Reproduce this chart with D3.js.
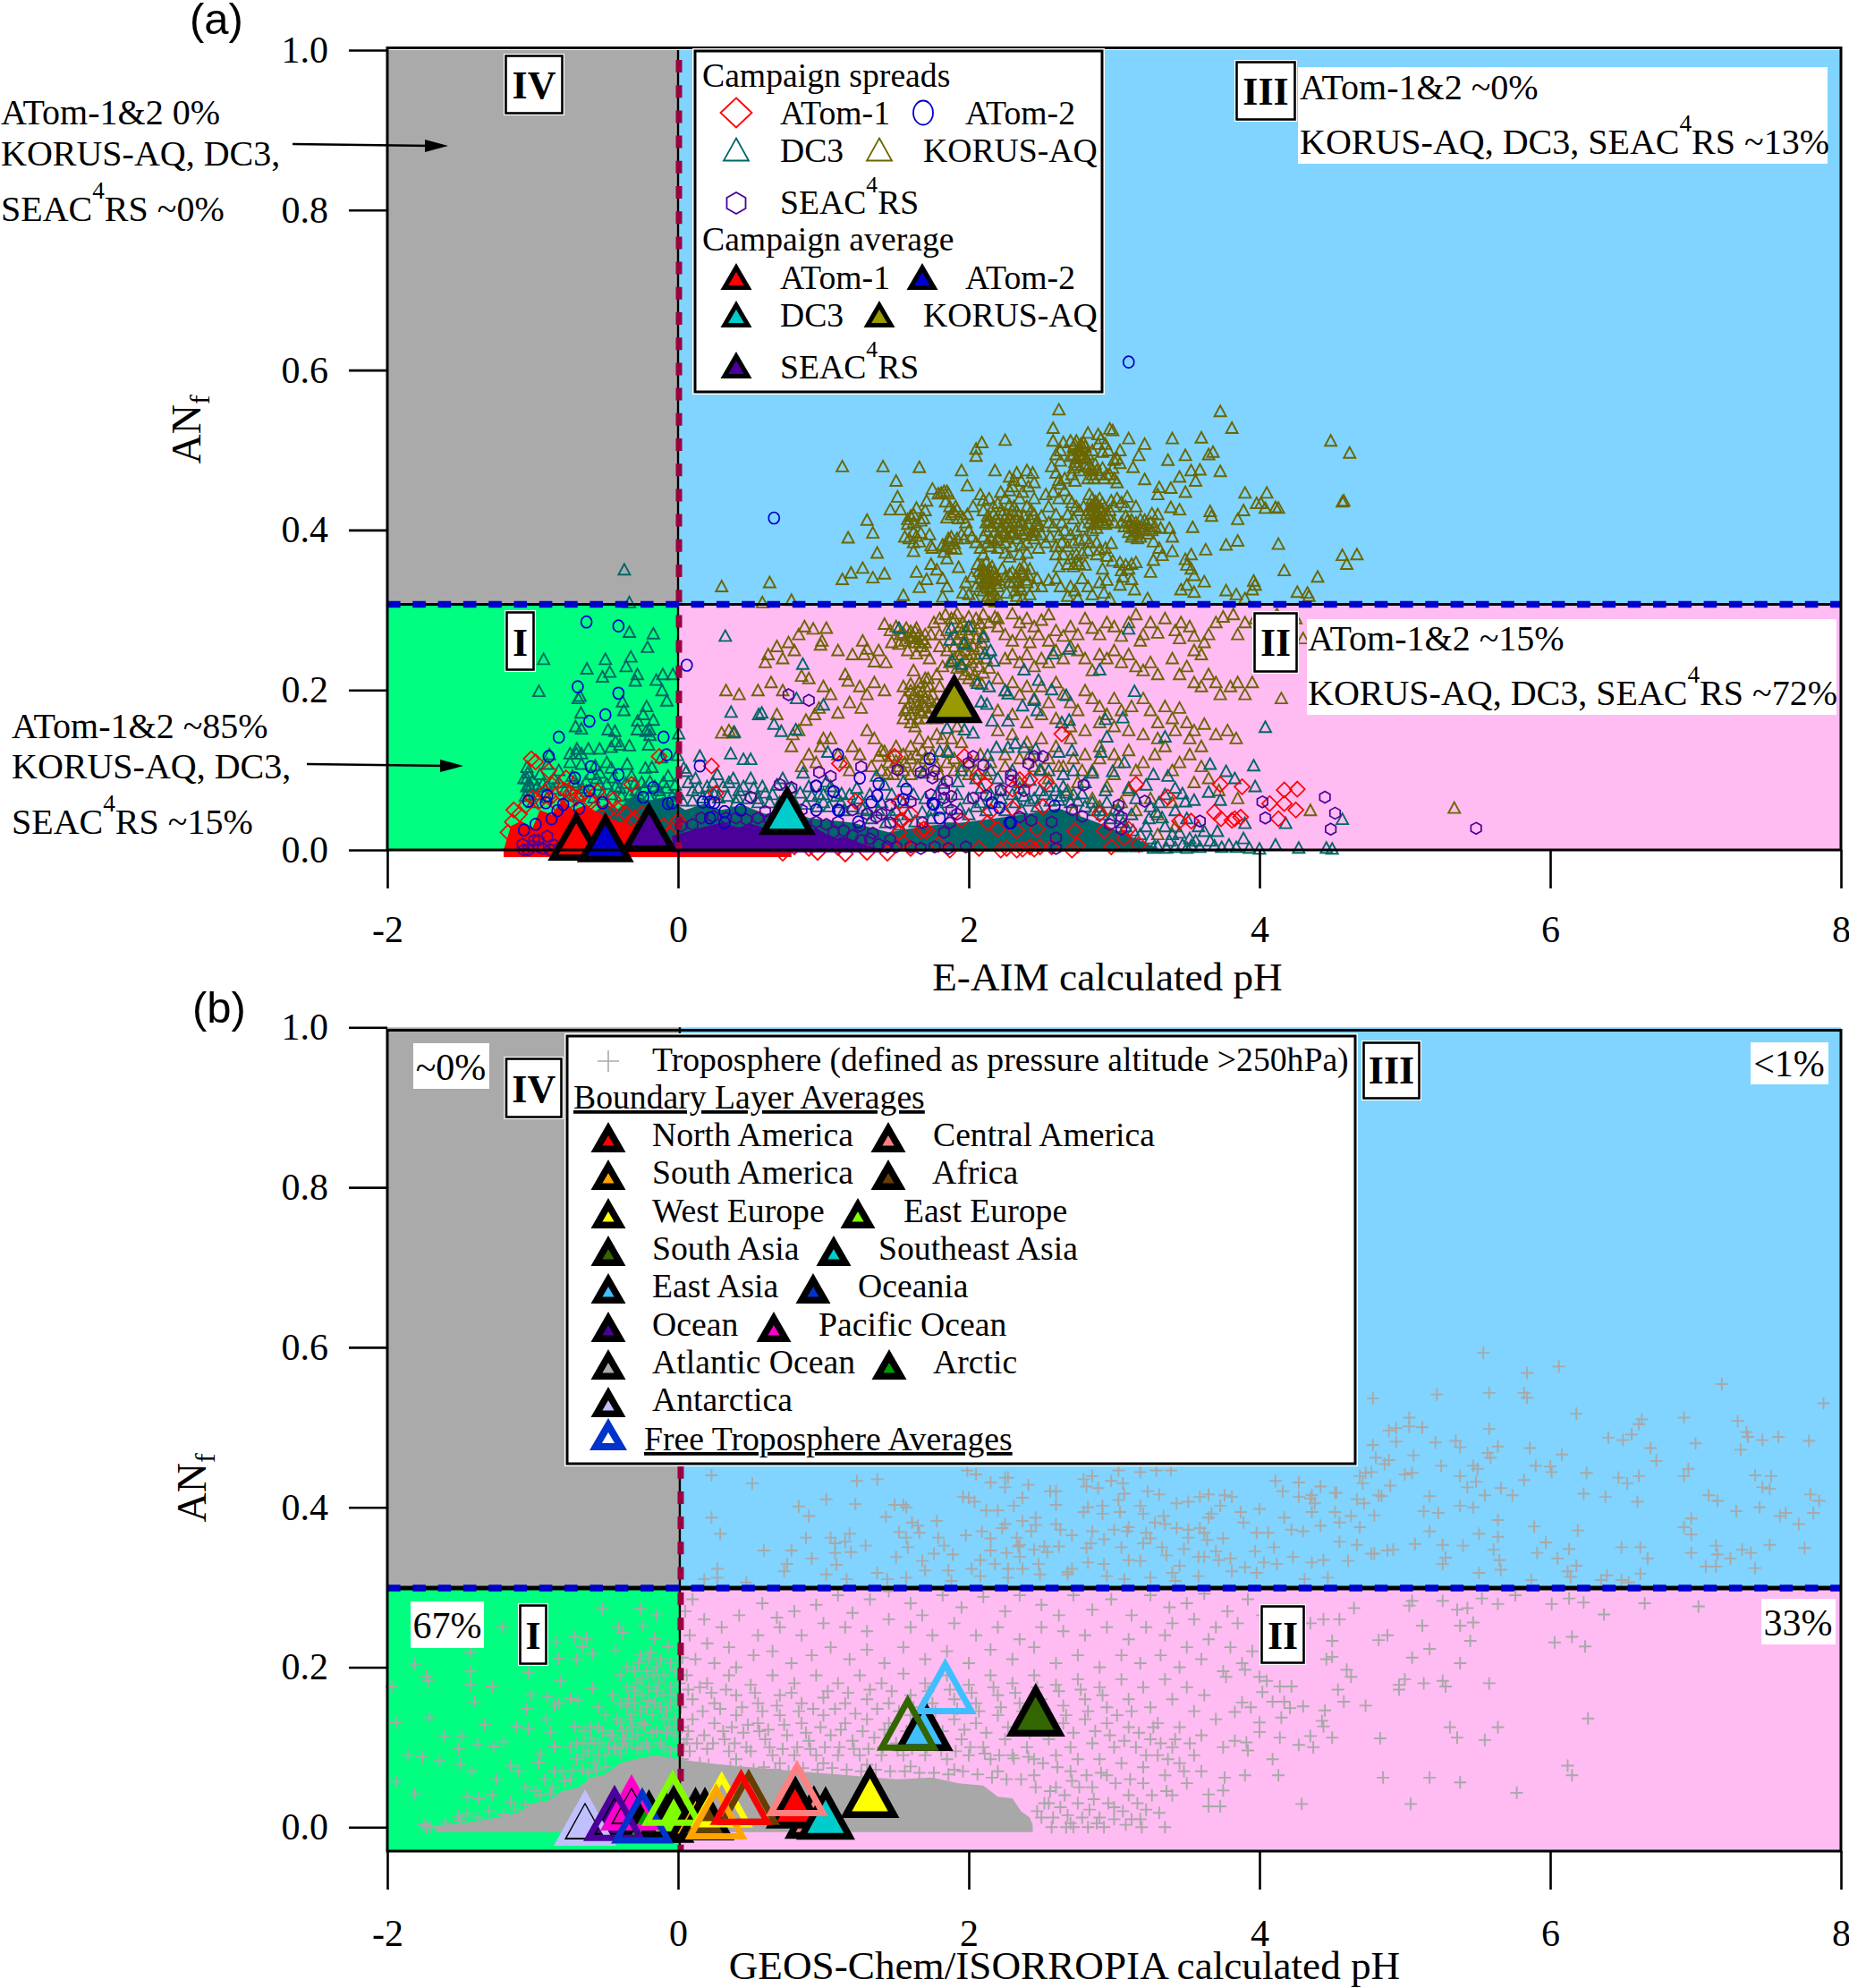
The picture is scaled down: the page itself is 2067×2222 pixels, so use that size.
<!DOCTYPE html>
<html><head><meta charset="utf-8">
<script src="https://cdn.jsdelivr.net/npm/d3@7"></script>
<style>
html,body{margin:0;padding:0;background:#fff}
svg{display:block}
text{font-family:"Liberation Serif","Times New Roman",serif;fill:#000}
</style></head><body>
<svg id="c" width="2067" height="2222"></svg>
<script>
const xTicks=[-2,0,2,4,6,8], xTickLabels=['-2','0','2','4','6','8'];
const yTicks=[0,0.2,0.4,0.6,0.8,1.0];
const thresholdA=0.307, thresholdB=0.299, zeroB=0.012;
const colors={gray:'#aaaaaa',sky:'#80d4ff',green:'#00ff80',pink:'#ffbcf2',crimson:'#99003f',dashBlue:'#0000cc',
 red:'#ff0000',blue:'#0000cc',teal:'#006666',olive:'#6b6600',purple:'#4b0099',cyan:'#00cccc',oliveFill:'#999900',plus:'#a8a8a8'};

/* ---- panel (a): dense masses where single marks merge (x, top of mass) ---- */
const redMass=[[-1.2,0],[-1.15,.03],[-1.08,.036],[-1.0,.028],[-.95,.05],[-.87,.044],[-.8,.062],[-.72,.05],[-.64,.056],[-.5,.042],[-.33,.03],[-.15,.018],[-.02,.006],[.3,.002],[.78,0]];
const tealMass=[[-.62,0],[-.6,.044],[-.5,.058],[-.42,.05],[-.3,.07],[-.2,.06],[-.1,.066],[.05,.05],[.18,.058],[.3,.05],[.45,.056],[.6,.045],[.78,.05],[.9,.04],[1.2,.034],[1.45,.022],[1.7,.03],[1.95,.034],[2.2,.04],[2.4,.045],[2.62,.052],[2.8,.04],[2.95,.03],[3.1,.018],[3.2,.01],[3.3,.002]];
const purpleMass=[[-.04,.018],[.05,.022],[.2,.03],[.3,.034],[.42,.028],[.5,.033],[.62,.026],[.75,.03],[.85,.022],[.95,.027],[1.08,.014],[1.15,.016],[1.3,.006],[1.42,0]];

const korusPts=[[.3,.33],[.58,.31],[.63,.335],[.78,.313],[1.13,.48],[1.41,.48],[1.66,.479],[1.95,.475],[2.18,.475],[2.62,.551],[3.73,.549],[3.81,.528],[2.58,.528],[2.97,.527],[2.99,.525],[2.82,.522],[2.89,.52],[2.91,.515],[3.1,.515],[3.6,.516],[3.4,.515],[4.49,.512],[3.21,.508],[2.09,.51],[2.25,.513],[2.05,.502],[2.05,.493],[4.62,.497],[3.49,.494],[3.68,.498],[3.65,.495],[3.17,.494],[3.37,.488],[3.13,.479],[3.73,.474],[3.53,.475],[3.59,.476],[3.45,.467],[3.56,.462],[3.21,.464],[1.5,.462],[1.99,.456],[1.75,.452],[1.51,.442],[3.31,.454],[3.39,.453],[3.3,.445],[3.49,.448],[3.9,.447],[4.05,.447],[4.57,.436],[4.58,.437],[3.98,.434],[4.01,.434],[4.04,.428],[4.11,.429],[4.13,.428],[3.89,.425],[3.66,.424],[3.67,.418],[3.85,.414],[3.39,.429],[3.45,.426],[3.54,.404],[3.85,.387],[3.77,.382],[4.13,.383],[3.63,.376],[4.57,.369],[4.67,.37],[4.6,.358],[4.17,.35],[4.4,.342],[3.96,.337],[3.97,.332],[3.95,.326],[3.77,.325],[3.84,.32],[4.26,.323],[4.34,.318],[4.33,.322],[3.9,.315],[3.62,.336],[3.55,.344],[3.5,.332],[3.46,.326],[3.55,.323],[3.4,.374],[3.53,.37],[3.49,.364],[3.53,.352],[3.5,.357],[3.33,.369],[3.27,.363],[3.25,.348],[3.14,.326],[3.12,.339],[3.23,.315],[3.31,.378],[3.4,.392],[3.38,.403],[3.32,.403],[3.26,.421],[3.3,.42],[3.27,.386],[1.3,.413],[1.34,.397],[1.17,.391],[1.37,.372],[1.27,.353],[1.19,.347],[1.13,.339],[1.34,.341],[1.42,.346],[1.46,.426],[1.53,.426],[1.71,.437],[1.55,.319],[1.62,.374],[1.64,.348],[1.74,.358],[1.78,.351],[1.71,.339],[1.66,.329],[1.85,.365],[1.93,.354],[1.82,.34],[1.85,.33],[1.82,.317],
[1.56,.392],[1.59,.39],[1.62,.385],[1.62,.398],[1.64,.393],[1.66,.386],[1.67,.397],[1.73,.395],[1.74,.381],[1.75,.378],[1.58,.414],[1.6,.418],[1.62,.41],[1.62,.42],[1.64,.428],[1.69,.415],[1.7,.425],[1.67,.412],[1.58,.408],[1.79,.446],[1.81,.447],[1.83,.449],[1.85,.449],[1.86,.446],[1.84,.436],[1.87,.43],[1.85,.416],[1.88,.42],[1.9,.423],[1.92,.426],[1.93,.415],[1.96,.416],[1.99,.42],[1.91,.43],[1.86,.39],[1.87,.387],[1.88,.392],[1.9,.384],[1.92,.39],[1.88,.378],[1.91,.377],[1.82,.382],[1.83,.373],[1.84,.38],[1.95,.395],[1.97,.39],[2.0,.4],[2.02,.392],[1.98,.41],[2.03,.43],
[2.08,.445],[2.1,.438],[2.1,.425],[2.14,.44],[2.17,.43],[2.13,.418],[2.17,.42],[2.2,.434],[2.22,.425],[2.25,.44],[2.28,.432],[2.3,.425],[2.25,.415],[2.2,.41],[2.15,.405],[2.12,.4],[2.18,.398],[2.22,.4],[2.26,.405],[2.3,.41],[2.34,.42],[2.36,.41],[2.4,.43],[2.42,.415],[2.45,.42],[2.47,.412],[2.35,.4],[2.39,.395],[2.44,.4],[2.48,.405],[2.5,.418],[2.29,.395],[2.33,.39],[2.3,.38],[2.36,.382],[2.4,.385],[2.45,.39],[2.5,.395],[2.25,.385],[2.2,.388],[2.15,.39],[2.1,.392],[2.05,.385],[2.25,.372],[2.28,.367],[2.35,.37],[2.4,.372],[2.48,.378],[2.53,.385],[2.2,.378],[2.15,.38],[2.08,.378],[2.1,.37],[2.3,.455],[2.31,.463],[2.28,.467],[2.33,.472],[2.36,.462],[2.4,.475],[2.44,.472],[2.37,.448],[2.41,.455],[2.45,.46],[2.28,.45],[2.22,.448],[2.45,.44],[2.35,.44],
[2.57,.48],[2.6,.472],[2.62,.463],[2.63,.458],[2.66,.465],[2.6,.495],[2.63,.487],[2.63,.5],[2.58,.512],[2.65,.51],[2.7,.512],[2.72,.504],[2.7,.493],[2.73,.485],[2.75,.5],[2.77,.508],[2.79,.51],[2.8,.505],[2.82,.495],[2.85,.5],[2.77,.49],[2.72,.478],[2.76,.475],[2.8,.48],[2.84,.478],[2.85,.47],[2.88,.475],[2.92,.478],[2.95,.47],[2.97,.47],[2.99,.478],[3.0,.488],[2.96,.5],[2.94,.508],[3.02,.49],[3.04,.5],[3.04,.484],[3.0,.465],[3.02,.46],[2.82,.465],[2.86,.465],[2.89,.508],[2.92,.498],
[2.53,.445],[2.55,.43],[2.58,.448],[2.62,.44],[2.66,.45],[2.69,.44],[2.71,.435],[2.74,.43],[2.76,.425],[2.72,.415],[2.6,.42],[2.64,.41],[2.68,.42],[2.58,.405],[2.55,.41],[2.62,.395],[2.66,.4],[2.7,.395],[2.74,.4],[2.78,.405],[2.56,.392],[2.6,.38],[2.64,.385],[2.68,.38],[2.72,.385],[2.76,.388],[2.8,.39],[2.83,.385],[2.6,.37],[2.65,.37],[2.7,.365],[2.74,.37],[2.78,.372],[2.82,.375],[2.88,.37],[2.72,.355],[2.76,.358],[2.8,.357],[2.74,.362],[2.68,.358],[2.62,.355],[2.95,.368],[2.99,.362],[3.04,.36],[3.05,.35],[3.06,.342],[3.04,.332],[3.08,.357],[3.1,.352],[3.12,.358],[3.15,.36],[2.92,.352],[2.88,.385],[2.9,.376],[2.94,.378],[2.98,.384],
[2.83,.445],[2.85,.44],[2.87,.436],[2.89,.43],[2.9,.44],[2.92,.425],[2.86,.425],[2.84,.43],[2.88,.418],[2.93,.42],[2.95,.413],[2.85,.415],[2.81,.42],[2.79,.43],[2.97,.425],[2.98,.437],[3.0,.43],[3.02,.44],[3.05,.435],[3.08,.43],[3.09,.442],[3.15,.43],[3.0,.41],[3.05,.41],[3.08,.418],[3.1,.405],[3.12,.413],[3.15,.41],[3.17,.405],[3.18,.414],[3.2,.4],[3.22,.408],[3.24,.402],[3.26,.4],[3.28,.405],[3.1,.398],[3.13,.395],[3.15,.4],[3.18,.392],
[2.06,.358],[2.1,.35],[2.12,.36],[2.14,.345],[2.16,.355],[2.18,.34],[2.15,.33],[2.2,.33],[2.12,.335],[2.1,.325],[2.08,.34],[2.05,.33],[2.02,.342],[1.98,.335],[2.0,.32],[1.96,.322],[2.04,.315],[2.13,.318],[2.17,.32],[2.2,.315],[2.23,.352],[2.25,.342],[2.28,.335],[2.3,.348],[2.33,.342],[2.35,.33],[2.38,.345],[2.4,.335],[2.42,.32],[2.45,.33],[2.47,.34],[2.32,.325],[2.37,.315],[2.26,.322],[2.5,.33],[2.55,.338],[2.6,.34],[2.63,.33],[2.7,.33],[2.73,.325],[2.78,.34],[2.82,.33],[2.68,.318],[2.75,.315],[2.85,.32],[2.9,.335],[2.95,.338],[2.93,.322],[2.97,.315],
[.87,.28],[.93,.277],[.99,.262],[.98,.257],[1.02,.278],[1.1,.25],[1.2,.245],[1.27,.262],[1.28,.245],[1.3,.252],[1.35,.236],[1.38,.25],[1.43,.235],[1.15,.22],[1.17,.212],[1.25,.205],[1.3,.195],[1.35,.21],[1.42,.2],[1.05,.195],[1.0,.205],[.9,.215],[.85,.218],[.97,.178],[1.1,.172],[1.18,.185],[1.26,.178],[.88,.163],[.94,.17],[1.0,.14],[.79,.145],[.83,.15],[.78,.13],[.9,.12],[.98,.13],[1.05,.14],[1.1,.12],[1.15,.11],[1.2,.13],[1.25,.12],[.85,.105],[.95,.11],[1.3,.15],[1.35,.14],[1.4,.125],[1.33,.105],[1.18,.1],[1.45,.11],[.55,.2],[.42,.195],[.3,.147],[.38,.147],[.33,.2],[.35,.15],[.68,.17],[.64,.21],[.72,.2],[.6,.235],[.72,.24],[.8,.25],[.76,.26],[.68,.255],[.62,.245],[.83,.27],
[1.42,.283],[1.46,.275],[1.5,.28],[1.53,.27],[1.57,.278],[1.6,.265],[1.63,.274],[1.66,.26],[1.7,.27],[1.47,.26],[1.52,.258],[1.58,.25],[1.64,.246],[1.7,.25],[1.73,.24],[1.76,.285],[1.8,.29],[1.84,.295],[1.88,.29],[1.92,.296],[1.96,.285],[2.0,.292],[2.05,.29],[2.1,.295],[2.14,.285],[2.18,.292],[2.2,.28],[1.8,.27],[1.85,.275],[1.9,.27],[1.95,.272],[2.0,.27],[2.05,.265],[2.1,.27],[1.8,.255],[1.85,.25],[1.9,.255],[1.93,.245],[1.98,.25],[2.02,.245],[2.06,.24],[2.12,.24],[1.82,.23],[1.87,.235],[1.95,.23],[2.0,.225],[2.04,.22],[1.55,.205],[1.6,.208],[1.65,.2],[1.7,.205],[1.75,.195],[1.8,.205],[1.56,.19],[1.6,.185],[1.65,.182],[1.7,.19],[1.75,.178],[1.6,.17],[1.65,.165],[1.7,.165],[1.55,.165],[1.72,.215],[1.78,.22],[1.62,.225],[1.92,.155],[1.88,.14],[1.95,.135],[1.82,.14],[1.78,.145],[1.72,.135],[1.66,.14],[1.6,.13],[1.55,.12],[1.5,.13],[1.7,.115],[1.75,.12],[1.85,.125],[1.9,.115],[1.95,.105],[1.78,.105],[1.65,.105],[1.55,.1],[1.48,.095],
[2.2,.29],[2.3,.296],[2.35,.285],[2.4,.29],[2.45,.28],[2.5,.288],[2.55,.295],[2.25,.27],[2.3,.262],[2.36,.27],[2.42,.26],[2.48,.27],[2.55,.262],[2.6,.275],[2.65,.268],[2.7,.28],[2.75,.27],[2.8,.29],[2.85,.278],[2.9,.27],[2.95,.285],[3.0,.28],[3.05,.268],[3.1,.285],[3.15,.295],[3.18,.262],[3.2,.27],[3.25,.285],[3.3,.272],[3.35,.29],[3.42,.275],[3.46,.285],[3.52,.28],[3.45,.265],[3.55,.268],[3.62,.26],[3.55,.25],[3.6,.245],[3.65,.27],[3.7,.285],[3.75,.292],[3.82,.295],[3.85,.27],[3.9,.285],[3.97,.29],[4.0,.255],[4.05,.26],[4.02,.236],[4.15,.275],[4.25,.29],[4.3,.265],[4.12,.295],[2.25,.24],[2.3,.245],[2.35,.235],[2.4,.245],[2.45,.23],[2.5,.24],[2.55,.235],[2.6,.25],[2.65,.24],[2.7,.255],[2.75,.25],[2.8,.24],[2.85,.225],[2.9,.245],[2.95,.24],[3.0,.25],[3.05,.235],[3.1,.245],[3.15,.23],[3.2,.225],[3.25,.235],[3.3,.22],[3.4,.24],[3.45,.22],[3.5,.23],[3.55,.21],[3.6,.205],[3.65,.22],[3.7,.21],[3.73,.195],[3.8,.205],[3.85,.21],[3.9,.195],[3.95,.21],[4.15,.19],
[2.2,.215],[2.25,.2],[2.3,.21],[2.35,.195],[2.4,.205],[2.45,.19],[2.5,.205],[2.55,.185],[2.6,.21],[2.65,.195],[2.7,.185],[2.75,.175],[2.8,.2],[2.85,.19],[2.9,.18],[2.95,.17],[3.0,.19],[3.05,.175],[3.12,.18],[3.2,.19],[3.25,.175],[3.3,.16],[3.35,.18],[3.4,.165],[3.45,.178],[3.5,.16],[3.55,.15],[3.62,.158],[3.7,.145],[3.78,.15],[3.84,.14],[3.6,.13],[3.52,.14],[3.42,.15],[3.3,.14],[3.2,.145],[3.1,.15],[3.0,.155],[2.9,.16],[2.8,.15],[2.7,.155],[2.6,.165],[2.5,.17],[2.4,.16],[2.3,.17],[2.2,.175],[2.2,.15],[2.3,.145],[2.4,.135],[2.5,.14],[2.6,.13],[2.7,.14],[2.8,.12],[2.9,.13],[3.0,.12],[3.1,.125],[3.2,.11],[3.28,.12],[3.35,.13],[3.45,.11],[3.52,.12],[3.6,.105],[3.65,.09],[3.55,.085],[3.4,.1],[3.15,.1],[3.0,.095],[2.85,.1],[2.65,.105],[2.45,.105],[2.25,.12],[2.15,.11],[2.05,.1],[2.35,.085],[2.55,.09],[2.75,.085],[2.95,.08],[3.1,.075],[3.25,.065],[3.4,.06],[3.05,.06],[2.85,.065],[2.68,.075],[2.72,.05],[2.9,.055],[3.0,.05],[3.15,.05],[3.3,.045],[3.42,.03],[3.85,.065],[3.72,.075],[5.34,.053],[4.35,.05],[3.3,.02]];

/* tight KORUS-AQ clumps read from the crowded parts of the cloud */
const korusClumps=[[2.11,.336],[2.13,.342],[2.15,.337],[2.17,.348],[2.14,.352],[2.11,.346],[2.09,.333],[2.18,.334],[2.16,.326],[2.13,.328],[2.19,.344],[2.07,.349],[2.09,.356],[2.21,.338],[2.12,.313],[2.15,.316],[2.18,.311],[2.35,.352],[2.37,.348],[2.34,.335],[2.39,.338],[2.41,.344],[2.36,.326],[2.33,.318],[2.31,.336],[2.38,.356],[2.42,.352],[2.28,.345],
[2.26,.42],[2.28,.416],[2.31,.43],[2.33,.424],[2.29,.404],[2.31,.398],[2.27,.392],[2.34,.406],[2.37,.396],[2.33,.412],[2.38,.418],[2.41,.408],[2.39,.402],[2.43,.394],[2.46,.398],[2.25,.396],[2.27,.41],[2.23,.42],[2.19,.415],[2.17,.41],[2.14,.412],[2.12,.41],[2.23,.405],[2.21,.392],[2.18,.385],[2.13,.385],[2.43,.425],[2.46,.408],
[2.86,.43],[2.88,.435],[2.9,.428],[2.92,.434],[2.87,.42],[2.89,.412],[2.91,.416],[2.94,.408],[2.86,.408],[2.83,.41],[2.85,.4],[2.88,.403],[2.92,.41],[2.96,.418],[2.82,.425],[2.84,.422],
[3.07,.405],[3.09,.412],[3.11,.41],[3.13,.403],[3.16,.398],[3.19,.405],[3.21,.413],[3.23,.396],[3.12,.392],[3.16,.39],[3.25,.41],
[2.73,.508],[2.74,.512],[2.76,.5],[2.78,.505],[2.74,.49],[2.77,.495],[2.79,.492],[2.81,.49],[2.75,.482],[2.72,.495],[2.71,.47],[2.73,.462],[2.85,.476],[2.87,.483],[2.83,.483],[2.9,.47],[2.93,.465],
[1.62,.267],[1.64,.278],[1.66,.27],[1.68,.264],[1.6,.274],[1.63,.26],[1.67,.255],[1.7,.26],[1.58,.268],[1.56,.262],[1.55,.272],[1.74,.27],
[1.6,.2],[1.62,.195],[1.65,.192],[1.68,.198],[1.62,.178],[1.66,.175],[1.7,.18],[1.72,.172],[1.6,.16],[1.63,.155],[1.67,.172],[1.74,.187],[1.78,.165],[1.58,.178],[1.56,.175],[1.66,.21],[1.7,.215],[1.73,.205],[1.68,.185],[1.78,.185],[1.82,.17],
[1.9,.29],[1.94,.28],[1.98,.276],[2.02,.28],[2.06,.277],[2.08,.284],[1.92,.264],[1.96,.26],[1.99,.257],[2.03,.255],[2.07,.252],[2.09,.26],[1.95,.245],[1.98,.238],[2.02,.235],[2.07,.23],[2.1,.222],[2.14,.228],[1.9,.24],[1.92,.228],[2.05,.212],[2.09,.208],[2.0,.215],[1.97,.22],
[1.38,.118],[1.42,.124],[1.46,.118],[1.5,.112],[1.52,.105],[1.56,.11],[1.6,.115],[1.64,.12],[1.68,.125],[1.4,.1],[1.44,.096],[1.6,.095],[1.7,.1],[1.8,.095],[1.9,.1],[2.0,.11],[2.08,.12],[2.0,.095],[1.85,.11],[2.12,.095],[2.25,.105],[2.35,.115],[2.42,.12],[2.55,.115],[2.72,.115],[2.62,.105],[2.78,.1],[2.9,.115],[3.03,.11],[2.5,.1]];

const dc3Pts=[[-.37,.351],[-.335,.31],[-.335,.273],[-.17,.271],[-.21,.254],[-.925,.239],[-.5,.239],[-.325,.242],[-.627,.227],[-.52,.217],[-.47,.223],[-.357,.23],[-.28,.22],[-.295,.212],[-.15,.213],[-.105,.22],[-.036,.22],[-.11,.2],[-.957,.199],[-.674,.193],[-.687,.19],[-.077,.187],[-.382,.186],[-.373,.175],[-.216,.18],[-.668,.172],[-.24,.17],[-.278,.162],[-.17,.163],[-.665,.152],[-.705,.155],[-.482,.151],[-.435,.149],[-.28,.151],[-.22,.149],[-.195,.151],[-.193,.144],[.004,.146],[-.43,.136],[-.4,.132],[-.335,.131],[-.203,.132],[-.617,.127],[-.54,.127],[-.46,.129],[-.696,.127],[-.743,.121],[-.7,.121],[-.665,.121],[-.885,.12],[-.005,.119],[-1.04,.104],[-1.035,.097],[-1.04,.09],[-1.025,.082],[-.9,.108],[-.82,.1],[-.743,.11],[-.665,.108],[-.57,.106],[-.49,.11],[-.46,.103],[-.35,.108],[-.225,.103],[-.115,.116],[-.18,.104],[-.853,.09],[-.727,.093],[-.633,.086],[-.54,.097],[-.445,.091],[-.32,.093],[-.193,.086],[-.068,.093],[-1.03,.075],[-.9,.08],[-.78,.075],[-.66,.078],[-.54,.082],[-.4,.078],[-.29,.075],[-.13,.075],[-.02,.082],[.04,.103],[.057,.099],[-1.05,.068],[-1.0,.06],[-.72,.085],[-.95,.095],[-.97,.08],[-.6,.095],[-.25,.085],[-.1,.085],
[.325,.268],[.858,.233],[.815,.19],[1.0,.182],[.365,.173],[.555,.17],[.576,.172],[.387,.148],[.66,.158],[.71,.149],[.81,.151],[.15,.118],[.362,.121],[.45,.114],[.5,.114],[1.03,.123],[1.52,.278],[1.88,.278],[2.0,.28],[2.1,.267],[1.97,.259],[2.15,.25],[1.87,.263],[2.11,.246],[1.885,.237],[1.95,.233],[2.17,.237],[2.06,.209],[2.14,.205],[2.25,.2],[2.27,.196],[2.125,.183],[2.085,.186],[3.1,.277],[2.69,.252],[2.58,.246],[2.38,.226],[2.9,.226],[2.48,.213],[2.57,.201],[2.67,.194],[3.14,.199],[2.45,.188],[2.37,.181],[2.47,.175],[2.94,.164],[3.06,.166],[2.27,.162],[2.16,.162],[2.64,.16],[2.69,.163],[1.85,.153],[1.97,.151],[2.03,.147],[2.95,.142],[3.35,.142],[4.04,.154],[2.32,.134],[2.19,.129],[2.27,.129],[2.38,.129],[2.46,.127],[1.8,.124],[1.86,.123],[2.13,.119],[2.62,.123],[2.71,.125],[2.91,.123],[3.07,.11],[3.66,.108],[3.77,.099],[3.96,.106],[3.97,.08],[3.83,.09],[3.65,.073],[3.49,.061],[3.55,.063],[3.73,.063],[3.42,.078],[3.27,.095],[3.22,.082],[2.99,.099],[2.85,.097],[2.65,.095],[2.49,.101],[3.37,.093],[3.47,.071],[3.31,.06],[3.29,.048],[3.33,.041],[3.71,.024],[3.62,.024],[3.9,.034],[4.18,.034],[4.57,.039],[3.89,.015],[4.11,.007],[4.27,.003],[4.46,.003],[4.5,.002],[4.0,.002],[3.79,.007],[3.69,.006],[3.59,.004],[3.53,.006],[3.47,.007],[1.42,.082],[1.365,.093],[1.23,.078],[1.125,.071],[1.02,.086],[.86,.097],[1.55,.086],[1.685,.097],[1.82,.084],[1.925,.086],[2.085,.078],[2.22,.075],[2.35,.078],[2.49,.075],[2.62,.063],[2.78,.071],[2.94,.075],[3.1,.078],
[.12,.09],[.2,.08],[.27,.095],[.35,.085],[.42,.075],[.5,.09],[.58,.08],[.65,.07],[.72,.09],[.78,.078],[.9,.08],[.97,.07],[1.05,.08],[1.12,.06],[1.18,.07],[1.25,.065],[1.32,.07],[1.4,.06],[1.47,.07],[1.55,.06],[1.62,.07],[1.7,.065],[1.78,.07],[1.85,.06],[1.92,.07],[2.0,.065],[2.08,.06],[2.15,.07],[2.22,.065],[2.3,.07],[2.38,.068],[2.45,.065],[2.55,.08],[2.65,.08],[2.72,.07],[2.85,.06],[2.95,.06],[3.03,.05],[3.12,.045],[3.22,.03],[3.15,.065],[3.25,.055],[3.35,.07],[3.42,.05],[3.5,.04],[3.58,.03],[3.4,.02],[3.25,.015],[3.3,.005],[3.15,.005],[3.05,.005],[2.15,.1],[2.3,.1],[2.42,.088],[2.55,.1],[2.72,.1],[2.8,.085],[2.2,.09],[1.95,.1],[2.05,.09],[.1,.075],[.25,.07],[.4,.06],[.55,.065],[.7,.06],[1.0,.06],[1.3,.05],[1.5,.05],[1.75,.05],[2.9,.05],[3.06,.035]];

/* crowded DC3 band just above the solid mass */
const dc3Band=[[-1.06,.09],[-1.04,.08],[-1.02,.07],[-1.0,.088],[-.97,.07],[-.93,.083],[-.9,.066],[-.86,.077],[-.82,.085],[-.76,.068],[-.7,.082],[-.68,.068],[-.63,.074],[-.58,.066],[-.56,.09],[-.52,.07],[-.49,.083],[-.46,.07],[-.43,.08],[-.39,.068],[-.36,.084],[-.33,.07],[-.3,.083],[-.27,.07],[-.23,.078],[-.2,.068],[-.16,.08],[-.12,.07],[-.08,.078],[-.04,.068],[0,.07],[.03,.062],[.07,.085],[.1,.062],[.14,.078],[.17,.066],[.21,.07],[.24,.085],[.28,.066],[.31,.08],[.34,.068],[.38,.09],[.41,.066],[.45,.08],[.48,.065],[.52,.078],[.55,.06],[.6,.072],[.63,.06],[.68,.082],[.72,.062],[.76,.07],[.8,.06],[.84,.072],[.88,.058],[.92,.068],[.96,.055],[1.0,.07],[1.04,.055],[1.09,.068],[1.14,.05],[1.2,.055],[1.27,.052],[1.33,.04],[1.38,.05],[1.43,.035],[1.47,.045],[1.52,.032],[1.58,.045],[1.63,.036],[1.68,.048],[1.74,.04],[1.8,.052],[1.87,.04],[1.94,.052],[2.0,.045],[2.05,.055],[2.12,.05],[2.18,.06],[2.25,.05],[2.32,.06],[2.36,.052],[2.42,.062],[2.47,.055],[2.52,.07],[2.56,.062],[2.6,.075],[2.63,.068],[2.67,.072],[2.7,.06],[2.75,.062],[2.8,.055],[2.86,.05],[2.92,.045],[2.98,.04],[3.08,.03],[3.13,.025],[3.18,.02],[3.24,.04],[3.35,.03],[3.38,.012],[3.45,.022],[3.52,.015],[3.27,.003],[3.36,.003],[3.42,.004],[3.5,.003],[3.56,.012],[3.66,.012],[3.74,.004],[3.84,.004],[3.93,.003]];

const atom1Pts=[[-1.01,.114],[-.98,.11],[-.89,.099],[-.77,.09],[-.87,.082],[-.74,.071],[-.32,.082],[-.555,.073],[-.445,.063],[-.13,.117],[.23,.105],[.26,.071],[-.32,.037],[-.38,.026],[0,.037],[-1.14,.035],[-1.17,.022],[-.25,.045],[-.1,.03],[.1,.015],[.35,.006],[.55,.004],[.65,.002],[.9,.002],[1.1,.003],[2.64,.145],[1.49,.117],[1.11,.108],[1.97,.117],[2.06,.091],[2.11,.082],[2.35,.088],[2.3,.076],[2.42,.088],[2.53,.084],[3.15,.082],[3.37,.066],[3.73,.082],[3.88,.079],[4.17,.075],[4.26,.076],[4.07,.058],[4.17,.058],[4.25,.05],[4.13,.039],[3.69,.047],[3.735,.039],[3.81,.037],[3.83,.039],[3.87,.041],[3.45,.036],[3.53,.036],[1.22,.061],[1.52,.06],[1.6,.045],[1.54,.037],[1.71,.024],[1.67,.024],[1.52,.022],[1.55,.009],[1.79,.007],[1.87,0],[1.95,.037],[2.13,.034],[2.15,.048],[2.2,.026],[2.33,.024],[2.3,.052],[2.51,.054],[2.47,.026],[2.73,.024],[2.9,.045],[2.93,.024],[3.1,.026],[3.07,.015],[3.17,.007],[2.98,.004],[2.75,.006],[2.71,0],[2.22,0],[2.33,0],[2.42,.004],[2.49,.004],[2.57,.004],[2.26,.002],[2.37,.001],[2.45,.001],[1.15,-.005],[1.44,-.004],[1.3,-.003],[1.6,.002],[2.07,.002],[1.53,.037],[1.69,.026],[.7,.012],[.8,.004],
[-1.13,.05],[-1.09,.045],[-1.05,.055],[-1.0,.065],[-.96,.06],[-.92,.072],[-.88,.065],[-.84,.058],[-.78,.075],[-.74,.062],[-.7,.065],[-.66,.07],[-.6,.06],[-.57,.052],[-.52,.06],[-.47,.05],[-.42,.052],[-.36,.045],[-.3,.04],[-.2,.03],[-.16,.025],[-.06,.02],[.08,.01],[.2,.008],[.42,.003],[.72,-.004],[.96,-.003]];

const atom2Pts=[[3.1,.61],[.66,.415],[-.63,.285],[-.41,.28],[.06,.231],[-.69,.204],[-.41,.196],[-.61,.161],[-.5,.169],[-.82,.141],[-.1,.141],[-.08,.119],[-.89,.117],[-.6,.104],[-.71,.09],[-.41,.094],[-.17,.078],[-.24,.066],[-.61,.074],[-.9,.068],[-1.03,.061],[-.91,.059],[-.79,.057],[-.83,.049],[-.87,.039],[-.68,.052],[-.52,.059],[-1.06,.025],[-.98,.032],[-.07,.058],[-.04,.059],[.17,.06],[.22,.06],[.25,.059],[.15,.105],[.32,.048],[.22,.04],[.43,.05],[.32,.034],[1.1,.119],[1.73,.114],[1.38,.083],[1.25,.09],[1.07,.073],[1.11,.049],[.95,.08],[1.33,.06],[1.37,.068],[1.57,.076],[1.24,.035],[1.75,.058],[1.8,.04],[2.29,.034],[2.21,.053],[2.59,.055],[1.55,.063],[1.76,.057],[2.16,.059],[2.28,.034],[.95,.05],[1.1,.05]];

const seacPts=[[.9,.187],[.76,.194],[1.26,.104],[1.05,.092],[.97,.097],[1.51,.1],[1.67,.097],[1.76,.099],[1.75,.09],[1.85,.086],[1.83,.076],[2.03,.117],[2.1,.106],[2.0,.109],[2.45,.117],[2.51,.117],[2.41,.108],[2.29,.094],[2.29,.086],[2.22,.075],[2.38,.074],[2.03,.065],[2.12,.068],[2.79,.081],[3.21,.061],[4.02,.06],[4.45,.066],[4.52,.046],[4.04,.04],[4.49,.026],[5.49,.027],[3.59,.036],[3.03,.056],[3.05,.041],[2.97,.032],[3.05,.026],[2.71,.05],[2.78,.042],[2.43,.037],[2.57,.035],[2.35,.041],[1.88,.05],[1.92,.045],[1.87,.034],[1.83,.022],[1.74,.069],[1.83,.065],[1.68,.034],[1.6,.06],[1.46,.056],[1.4,.045],[1.365,.041],[1.46,.034],[1.34,.021],[1.46,.013],[1.44,.004],[1.6,.004],[1.67,.002],[1.765,.004],[1.86,.002],[1.98,.004],[2.6,.015],[2.6,.002],[-1.07,.007],[-1.03,0],[-.9,.017],[-.96,.004],[-.88,0],[-1.06,0],[-.93,.002],[-.99,.012],[.5,.066],[.7,.082],[.78,.078],[.95,.08],[1.07,.073],[1.88,.067],[1.2,.05],[1.3,.045],[1.1,.035],[.85,.05],[.75,.045],[.6,.048],[1.25,.03],
[.02,.03],[.1,.032],[.16,.04],[.24,.042],[.33,.04],[.4,.04],[.47,.038],[.55,.04],[.63,.038],[.7,.036],[.8,.038],[.88,.03],[.95,.035],[1.02,.032],[1.07,.022],[1.14,.024],[1.2,.018],[1.26,.012],[1.32,.014],[1.38,.007],[1.5,.004],[1.12,.008],[-1.0,.005],[-.96,.012],[-.85,.006],[-.82,.002]];

/* ---- averages, panel (a) ---- */
const campaignNames=['ATom-1','ATom-2','SEAC4RS','DC3','KORUS-AQ'];
const campaignX=[-.70,-.50,-.20,.75,1.90];
const campaignY=[.018,.016,.029,.05,.19];
const campaignFill=['#ff0000','#0000cc','#4b0099','#00cccc','#999900'];

/* ---- panel (b) ---- */
const grayMass=[[-1.67,.002],[-1.4,.007],[-1.25,.012],[-1.1,.018],[-1.0,.03],[-.88,.034],[-.8,.045],[-.68,.05],[-.6,.062],[-.5,.066],[-.4,.08],[-.3,.085],[-.15,.09],[0,.085],[.2,.08],[.5,.075],[.8,.07],[1.1,.066],[1.5,.06],[1.75,.062],[1.93,.055],[2.1,.052],[2.2,.038],[2.3,.036],[2.36,.02],[2.42,.012],[2.44,.002]];

const tropPts=[[5.54,.593],[6.06,.576],[5.84,.568],[7.18,.554],[5.22,.541],[5.58,.543],[5.82,.543],[5.84,.537],[4.78,.536],[7.88,.53],[6.18,.517],[6.92,.512],[6.63,.51],[6.61,.504],[7.29,.508],[5.03,.512],[5.03,.501],[5.12,.5],[4.94,.499],[4.89,.496],[5.58,.498],[7.35,.494],[7.36,.488],[7.46,.484],[7.57,.488],[7.78,.483],[6.56,.491],[6.4,.487],[6.5,.484],[4.94,.482],[5.21,.481],[5.35,.483],[5.38,.475],[6.69,.474],[7.0,.48],[7.31,.472],[5.64,.476],[5.57,.468],[5.59,.462],[5.86,.474],[6.08,.466],[5.06,.465],[4.78,.478],[4.8,.462],[4.89,.459],[6.73,.458],[5.25,.452],[5.47,.452],[5.5,.448],[5.9,.452],[6.0,.451],[6.01,.444],[6.95,.448],[6.92,.439],[6.25,.443],[7.41,.44],[7.52,.439],[6.61,.439],[6.47,.437],[6.53,.43],[5.0,.441],[5.05,.443],[4.73,.443],[4.71,.43],[5.38,.439],[5.49,.432],[5.82,.434],[4.9,.427],[5.43,.425],[5.66,.424],[7.51,.423],[7.46,.425],[6.23,.417],[6.38,.413],[5.55,.415],[5.74,.415],[7.09,.415],[7.15,.408],[7.79,.416],[7.85,.408],[6.6,.407],[5.17,.414],[4.84,.414],[4.67,.41],[4.53,.418],[4.35,.411],[5.13,.395],[5.23,.393],[5.38,.402],[5.47,.4],[7.28,.395],[7.44,.4],[7.62,.393],[7.58,.389],[7.81,.393],[7.71,.379],[6.97,.386],[6.92,.375],[6.97,.366],[5.64,.384],[5.89,.376],[6.19,.371],[5.17,.37],[5.51,.367],[5.64,.363],[5.97,.356],[6.49,.35],[6.62,.35],[6.67,.336],[7.14,.352],[7.15,.341],[7.24,.336],[7.32,.347],[7.38,.343],[7.51,.353],[7.75,.349],[6.97,.343],[6.13,.348],[5.91,.343],[6.05,.336],[6.18,.327],[6.12,.32],[6.14,.313],[6.62,.317],[7.07,.326],[7.14,.326],[7.41,.324],[5.65,.334],[5.66,.322],[5.51,.318],[5.28,.337],[5.26,.329],[5.61,.347],[5.4,.352],[5.26,.353],[5.07,.354],[4.92,.347],[6.39,.315],[6.35,.309],[6.49,.309],[6.54,.306],[5.87,.309],
[5.76,.29],[6.01,.279],[6.13,.286],[6.23,.281],[6.65,.28],[7.02,.276],[6.37,.266],[5.64,.279],[5.53,.286],[5.43,.274],[5.36,.272],[5.26,.283],[5.05,.283],[5.03,.277],[5.47,.256],[5.45,.233],[5.38,.252],[5.12,.252],[4.88,.24],[4.82,.234],[6.03,.231],[6.15,.238],[6.24,.226],[5.17,.223],[5.05,.212],[5.38,.205],[4.5,.213],[4.46,.21],[4.5,.233],[4.6,.197],[4.63,.188],[4.55,.26],[4.44,.26],[4.65,.274],[5.58,.18],[5.26,.183],[5.28,.176],[5.13,.18],[5.0,.185],[4.96,.178],[4.96,.172],[4.54,.172],[4.58,.157],[4.73,.152],[4.5,.112],[4.83,.111],[5.31,.125],[5.36,.112],[5.55,.109],[5.64,.125],[6.26,.136],[6.12,.077],[6.15,.065],[5.77,.043],[5.38,.056],[5.17,.062],[4.85,.062],[5.04,.029],[4.29,.029],[4.09,.085],[4.13,.065],[3.9,.065],[3.76,.062],[3.75,.046],[3.65,.041],[3.65,.026],[3.73,.026],[3.35,0],[3.19,0],[3.08,.003],[2.93,0],[2.82,0],[2.72,0],[2.67,0],[2.57,0],[4.02,.169],[4.0,.131],[4.0,.119],[4.17,.157],[4.09,.157],[4.3,.151],[4.21,.149],[4.15,.137],[4.45,.146],[4.43,.133],[4.44,.126],[4.14,.112],[4.27,.103],[4.35,.114],[4.37,.1],[3.83,.108],[3.91,.106],[3.92,.096],[3.9,.197],[3.77,.188],[4.0,.188],[4.05,.183],[4.14,.176],[4.22,.176],[3.88,.156],[3.83,.144],[3.94,.15],
[.23,.44],[.51,.43],[1.23,.433],[1.37,.435],[1.02,.41],[.83,.401],[1.22,.404],[.23,.387],[.9,.389],[.29,.367],[1.49,.403],[1.55,.403],[1.57,.4],[1.43,.388],[1.61,.381],[1.65,.377],[1.78,.383],[1.52,.369],[1.57,.362],[1.66,.368],[1.79,.362],[1.98,.365],[2.09,.37],[2.15,.361],[.88,.362],[1.05,.362],[1.08,.355],[1.15,.357],[1.18,.367],[1.29,.352],[.59,.346],[.78,.346],[1.08,.343],[1.19,.344],[.92,.336],[1.09,.328],[.75,.329],[.73,.32],[.27,.323],[.27,.312],[1.02,.316],[1.37,.318],[1.16,.31],[.47,.306],[.18,.31],[1.58,.35],[1.5,.338],[1.76,.342],[1.83,.352],[1.89,.341],[1.68,.333],[1.7,.321],[1.86,.321],[1.44,.31],[1.57,.312],[1.88,.308],[1.96,.413],[2.0,.412],[2.04,.407],[2.15,.431],[2.25,.437],[2.27,.437],[2.25,.425],[1.99,.446],[2.05,.441],[2.41,.428],[2.56,.42],[2.6,.42],[2.37,.412],[2.31,.402],[2.6,.403],[2.12,.396],[2.2,.396],[2.37,.383],[2.46,.387],[2.46,.378],[2.25,.379],[2.23,.374],[2.6,.379],[2.63,.372],[2.71,.365],[2.33,.362],[2.34,.351],[2.35,.353],[2.43,.37],[2.15,.346],[2.26,.343],[2.18,.329],[2.27,.323],[2.27,.312],[2.45,.347],[2.52,.351],[2.54,.344],[2.62,.351],[2.35,.338],[2.37,.323],[2.48,.329],[2.08,.334],[2.02,.323],[2.08,.314],[2.49,.316],[2.68,.319],[2.71,.323],[2.84,.355],[2.81,.349],[2.93,.36],[3.0,.372],[2.85,.37],[3.09,.37],[3.23,.42],[3.31,.416],[2.79,.435],[2.85,.439],[2.98,.433],[3.06,.43],[3.03,.446],[3.18,.444],[3.29,.446],[3.39,.446],[2.81,.426],[2.89,.424],[3.03,.409],[3.07,.417],[2.82,.4],[2.92,.402],[2.92,.392],[2.79,.394],[3.04,.394],[3.18,.402],[3.2,.392],[3.43,.405],[3.51,.407],[3.59,.413],[3.65,.416],[3.76,.415],[3.81,.413],[3.73,.402],[3.67,.392],[3.65,.387],[3.34,.389],[3.28,.381],[3.35,.379],[3.22,.368],[3.25,.361],[3.1,.375],[3.43,.374],[3.51,.372],[3.59,.374],[3.62,.368],[3.51,.362],[3.64,.359],[3.75,.361],[3.98,.368],[4.06,.368],[3.87,.394],[3.89,.381],[4.0,.398],[4.17,.387],[4.11,.433],[4.16,.42],[4.27,.431],[4.42,.426],[4.52,.418],[4.27,.413],[4.36,.415],[4.38,.405],[4.36,.394],[4.22,.372],[4.3,.37],[4.42,.377],[4.55,.381],[4.52,.394],[4.63,.389],[4.72,.405],[4.82,.415],[4.69,.439],[4.77,.444],[4.86,.454],[4.69,.375],[4.79,.39],[4.55,.357],[4.67,.353],[4.79,.342],[4.88,.346],[2.82,.331],[2.93,.329],[3.1,.334],[3.18,.333],[3.36,.34],[3.45,.327],[3.58,.338],[3.62,.338],[3.72,.334],[3.8,.336],[2.68,.316],[2.95,.314],[3.07,.31],[3.25,.312],[3.4,.318],[3.42,.308],[3.58,.314],[3.81,.32],[3.9,.325],[4.03,.331],[3.98,.318],[4.12,.329],[4.36,.331],[4.44,.334],[4.61,.333],[4.47,.312],[4.31,.31],[4.77,.342],[4.23,.338],[3.05,.35],[3.2,.355],[3.33,.35],[3.48,.348],[3.7,.345],[3.97,.345],[4.1,.35],
[-.52,.273],[-.26,.273],[-.15,.265],[-.41,.25],[-.38,.243],[-.24,.252],[-1.21,.25],[-.84,.232],[-.71,.238],[-.63,.236],[-.66,.226],[-.43,.222],[-.16,.236],[-.07,.226],[-.26,.215],[-.19,.219],[-.82,.211],[-.7,.21],[-.59,.217],[-1.43,.219],[-1.81,.204],[-1.43,.195],[-1.03,.193],[-1.73,.189],[-1.72,.183],[-1.97,.176],[-1.43,.178],[-1.28,.176],[-.81,.183],[-1.01,.165],[-.9,.163],[-.59,.174],[-.82,.155],[-.85,.152],[-.74,.161],[-.69,.159],[-1.04,.148],[-1.4,.157],[-.91,.135],[-1.71,.137],[-1.94,.131],[-1.33,.128],[-1.11,.126],[-1.03,.123],[-.88,.119],[-1.61,.114],[-1.49,.114],[-.71,.126],[-.65,.12],[-.52,.12],[-1.38,.104],[-1.27,.101],[-1.2,.107],[-1.51,.098],[-1.86,.09],[-1.76,.088],[-1.64,.083],[-1.5,.079],[-1.42,.07],[-1.15,.077],[-1.25,.06],[-1.94,.057],[-1.81,.042],[-1.45,.038],[-1.37,.036],[-1.28,.04],[-1.51,.014],[-1.45,.017],[-1.73,0],[-1.7,0],[-1.75,.003],[-.85,.101],[-.74,.1],[-.95,.092],[-1.1,.07],[-.96,.081],[-.85,.07],[-.4,.19],[-.35,.2],[-.3,.195],[-.25,.185],[-.2,.21],[-.15,.2],[-.1,.19],[-.05,.205],[-.02,.195],[-.35,.175],[-.3,.17],[-.25,.165],[-.2,.175],[-.15,.17],[-.1,.165],[-.05,.175],[-.45,.165],[-.4,.155],[-.35,.15],[-.3,.155],[-.22,.15],[-.12,.15],[-.05,.155],[-.55,.15],[-.5,.14],[-.42,.135],[-.33,.135],[-.25,.13],[-.18,.14],[-.1,.135],[-.02,.135],[-.6,.125],[-.45,.115],[-.35,.12],[-.28,.115],[-.18,.118],[-.08,.118],[-.02,.115],[-.7,.105],[-.58,.105],[-.48,.1],[-.38,.105],[-.22,.105],[-.12,.105],[-.65,.09],[-.55,.09],[-.32,.11]];

/* the crowded troposphere cloud of region II and the lower left */
const tropCloud=[[.05,.27],[.1,.285],[.18,.26],[.3,.25],[.42,.265],[.58,.28],[.68,.262],[.8,.27],[.95,.278],[1.1,.29],[1.2,.268],[1.32,.285],[1.45,.295],[1.6,.28],[1.68,.265],[1.82,.29],[1.95,.275],[2.1,.288],[2.25,.27],[2.35,.29],[2.5,.278],[2.62,.265],[2.72,.29],[2.85,.272],[2.98,.285],[3.12,.265],[3.25,.29],[3.38,.275],[3.5,.28],[3.62,.292],[3.78,.27],[3.92,.285],[3.4,.255],[3.55,.26],[3.7,.25],[3.85,.255],[4.02,.265],[4.15,.245],[4.28,.27],[4.35,.255],[4.2,.225],[4.08,.235],[3.95,.22],[3.8,.225],[3.65,.235],[3.5,.225],[3.35,.24],[3.22,.25],[3.1,.235],[2.95,.25],[2.8,.24],[2.65,.245],[2.5,.25],[2.35,.235],[2.2,.25],[2.05,.24],[1.9,.255],[1.75,.24],[1.6,.25],[1.45,.26],[1.3,.245],[1.15,.25],[1.0,.255],[.85,.24],[.7,.25],[.55,.24],[.35,.225],[.2,.23],[.08,.24],[.12,.21],[.25,.205],[.4,.2],[.52,.215],[.65,.22],[.78,.205],[.92,.215],[1.05,.225],[1.18,.21],[1.3,.222],[1.42,.205],[1.55,.225],[1.7,.21],[1.85,.22],[2.0,.205],[2.15,.222],[2.3,.21],[2.45,.225],[2.6,.205],[2.75,.215],[2.9,.2],[3.05,.215],[3.18,.205],[3.32,.215],[3.45,.2],[3.6,.21],[3.75,.195],[3.88,.205],[3.35,.185],[3.2,.175],[3.05,.185],[2.9,.175],[2.75,.185],[2.6,.178],[2.45,.19],[2.3,.18],[2.15,.19],[2.0,.178],[1.85,.19],[1.7,.18],[1.55,.192],[1.4,.18],[1.25,.19],[1.1,.18],[.95,.19],[.8,.18],[.65,.19],[.5,.178],[.35,.19],[.2,.18],[.06,.19],[.1,.16],[.25,.155],[.4,.165],[.55,.155],[.7,.165],[.85,.155],[1.0,.162],[1.15,.155],[1.3,.16],[1.45,.155],[1.6,.165],[1.75,.155],[1.9,.16],[2.05,.155],[2.2,.165],[2.35,.155],[2.5,.16],[2.65,.152],[2.8,.16],[2.95,.15],[3.1,.16],[3.25,.15],[3.4,.16],[3.55,.145],[3.7,.135],[3.5,.175],[3.62,.165],[3.3,.13],[3.45,.125],[3.6,.115],[3.75,.1],[3.55,.09],[3.4,.1],[3.25,.11],[3.1,.125],[2.95,.13],[2.8,.135],[2.65,.13],[2.5,.135],[2.35,.13],[2.2,.14],[2.05,.13],[1.9,.135],[1.75,.13],[1.6,.14],[1.45,.13],[1.3,.135],[1.15,.13],[1.0,.14],[.85,.13],[.7,.14],[.55,.13],[.4,.14],[.25,.13],[.1,.135],[.06,.11],[.18,.115],[.32,.11],[.45,.118],[.6,.11],[.75,.115],[.9,.108],[1.05,.115],[1.2,.108],[1.35,.112],[1.5,.105],[1.65,.115],[1.8,.105],[1.95,.11],[2.1,.1],[2.25,.11],[2.4,.1],[2.55,.11],[2.7,.1],[2.85,.105],[3.0,.1],[3.15,.1],[3.3,.09],[3.45,.08],[3.6,.07],[3.5,.055],[3.35,.065],[3.2,.075],[3.05,.08],[2.9,.085],[2.75,.085],[2.6,.09],[2.45,.085],[2.3,.09],[2.15,.085],[2.0,.09],[1.85,.085],[1.7,.09],[1.55,.09],[1.4,.09],[1.25,.09],[1.1,.09],[.95,.09],[.8,.09],[.65,.09],[.5,.095],[.35,.095],[.2,.098],[.08,.095],[.15,.08],[.4,.085],[.7,.08],[1.0,.08],[1.3,.078],[1.6,.076],[1.9,.072],[2.2,.07],[2.45,.065],[2.7,.07],[2.95,.065],[3.2,.055],[3.4,.04],[3.1,.04],[2.85,.05],[2.6,.05],[2.55,.03],[2.75,.03],[3.0,.025],[3.22,.022],[2.5,.012],[2.68,.015],[2.9,.012],
[.03,.212],[.07,.172],[.15,.175],[.17,.145],[.23,.168],[.29,.148],[.33,.172],[.37,.125],[.44,.15],[.48,.128],[.53,.168],[.58,.145],[.62,.122],[.68,.152],[.73,.128],[.78,.168],[.83,.145],[.88,.118],[.93,.148],[.98,.125],[1.03,.17],[1.08,.148],[1.12,.122],[1.17,.168],[1.22,.142],[1.27,.12],[1.32,.172],[1.37,.148],[1.42,.122],[1.47,.17],[1.52,.145],[1.57,.12],[1.62,.15],[1.67,.128],[1.72,.17],[1.77,.145],[1.82,.12],[1.87,.172],[1.92,.148],[1.97,.122],[2.02,.168],[2.07,.145],[2.12,.118],[2.17,.175],[2.22,.15],[2.27,.125],[2.32,.168],[2.37,.145],[2.42,.118],[2.47,.175],[2.52,.148],[2.57,.122],[2.62,.17],[2.67,.14],[2.72,.118],[2.77,.172],[2.82,.145],[2.87,.12],[2.92,.165],[2.97,.115],[3.02,.14],[3.07,.108],[3.12,.145],[3.17,.118],[3.22,.09],[3.27,.125],[3.32,.105],[3.37,.085],[3.42,.11],[3.48,.07],[3.52,.105],[.03,.085],[.07,.12],[.11,.07],[.13,.105],[.21,.078],[.24,.105],[.28,.07],[.31,.12],[.36,.075],[.39,.105],[.43,.07],[.47,.1],[.52,.072],[.56,.12],[.59,.075],[.63,.1],[.67,.072],[.72,.098],[.76,.07],[.82,.1],[.86,.074],[.91,.098],[.96,.072],[1.01,.1],[1.06,.074],[1.11,.1],[1.16,.072],[1.21,.098],[1.26,.07],[1.31,.098],[1.36,.072],[1.41,.1],[1.46,.07],[1.51,.096],[1.56,.07],[1.61,.098],[1.66,.068],[1.71,.1],[1.76,.068],[1.81,.096],[1.86,.066],[1.91,.095],[1.96,.07],[2.01,.1],[2.06,.066],[2.11,.092],[2.16,.062],[2.21,.09],[2.26,.06],[2.31,.086],[2.36,.06],[2.41,.088],[2.46,.05],[2.51,.08],[2.56,.045],[2.61,.075],[2.66,.04],[2.71,.058],[2.76,.05],[2.81,.065],[2.86,.035],[2.91,.068],[2.96,.03],[3.01,.055],[3.06,.02],[3.11,.06],[3.16,.03],[3.26,.04],[3.31,.018],[3.36,.045],[2.47,.02],[2.52,.03],[2.58,.012],[2.63,.025],[2.7,.005],[2.78,.012],[2.83,.022],[2.88,.005],[3.0,.01],[3.12,.01],[3.18,.01],
[-.98,.045],[-.92,.06],[-.86,.05],[-.8,.07],[-.74,.06],[-.7,.085],[-.66,.072],[-.62,.095],[-.58,.08],[-.54,.105],[-.5,.09],[-.47,.115],[-.43,.098],[-.4,.13],[-.37,.11],[-.34,.16],[-.31,.125],[-.28,.18],[-.26,.145],[-.23,.128],[-.2,.158],[-.17,.19],[-.15,.12],[-.13,.18],[-.08,.145],[-.06,.125],[-.03,.165],[.01,.18],[.02,.15],[.03,.125],[-.16,.155],[-.22,.195],[-.27,.205],[-.12,.21],[-.32,.14],[-.38,.12],[-.44,.1],[-.5,.075],[-.56,.072],[-.62,.068],[-.72,.072],[-.78,.058],[-.88,.042],[-.95,.04],[-1.05,.028],[-1.12,.022],[-1.2,.016],[-1.05,.05],[-1.15,.032],[-1.3,.02],[-1.38,.012],[-1.5,.008],[-1.6,.005],[-.65,.105],[-.6,.112],[-.55,.125],[-.35,.1],[-.25,.1],[-.1,.1],[-.05,.095],[-.2,.1],[-.28,.098],[-.4,.092],[.0,.098],[.04,.105]];

/* boundary-layer averages (black outline, coloured centre) and free-troposphere averages (coloured outline) */
const blNames=['Antarctica','Ocean','Pacific Ocean','Oceania','Arctic','Atlantic Ocean','East Europe','South America','Africa','Central America','North America','Southeast Asia','West Europe','East Asia','South Asia'];
const blX=[-.64,-.437,-.32,-.246,-.2,-.09,-.03,.12,.185,.935,.805,1.015,1.32,1.69,2.46];
const blY=[.012,.018,.031,.015,.014,.014,.02,.017,.017,.019,.032,.018,.045,.129,.147];
const blFill=['#c0c0ff','#4b0099','#ff00cc','#0033cc','#009900','#aaaaaa','#80ff00','#ffa500','#663f00','#ff8080','#ff0000','#00cccc','#ffff00','#40bfff','#336600'];
const ftNames=['East Asia','Antarctica','Pacific Ocean','Ocean','Oceania','East Europe','West Europe','Africa','South America','North America','Central America','South Asia'];
const ftX=[1.838,-.64,-.32,-.437,-.246,-.037,.30,.486,.262,.434,.818,1.58];
const ftY=[.1765,.012,.031,.018,.015,.037,.035,.038,.02,.038,.049,.131];
const ftColor=['#40bfff','#c0c0ff','#ff00cc','#4b0099','#0033cc','#80ff00','#ffff00','#663f00','#ffa500','#ff0000','#ff8080','#336600'];

const legendBL=[
 [['North America','#ff0000'],['Central America','#ff8080']],
 [['South America','#ffa500'],['Africa','#663f00']],
 [['West Europe','#ffff00'],['East Europe','#80ff00']],
 [['South Asia','#336600'],['Southeast Asia','#00cccc']],
 [['East Asia','#40bfff'],['Oceania','#0033cc']],
 [['Ocean','#4b0099'],['Pacific Ocean','#ff00cc']],
 [['Atlantic Ocean','#aaaaaa'],['Arctic','#009900']],
 [['Antarctica','#c0c0ff']]];
const legendBLsecondMarker=[993,993,959,932,909,865,994];
const legendBLsecondText=[1043,1042,1010,982,959,915,1043];

const svg=d3.select('#c');

function tri(W,H,sw){
  const side=Math.sqrt(W*W/4+H*H), r=W*H/(W+2*side), k=Math.max(0.02,(r-sw/2)/r);
  const incY=H/2-r;
  const pts=[[0,-H/2],[W/2,H/2],[-W/2,H/2]].map(p=>[p[0]*k,incY+(p[1]-incY)*k]);
  return 'M'+pts.map(p=>p.join(',')).join('L')+'Z';
}
const symbols={
 tri:(w,h)=>`M0,${-h/2}L${w/2},${h/2}L${-w/2},${h/2}Z`,
 dia:(w,h)=>`M0,${-h/2}L${w/2},0L0,${h/2}L${-w/2},0Z`,
 hex:(w,h)=>`M0,${-h/2}L${w/2},${-h/4}L${w/2},${h/4}L0,${h/2}L${-w/2},${h/4}L${-w/2},${-h/4}Z`,
 circ:(w,h)=>`M${-w/2},0A${w/2},${h/2} 0 1 1 ${w/2},0A${w/2},${h/2} 0 1 1 ${-w/2},0Z`,
 plus:(w,h)=>`M${-w/2},0H${w/2}M0,${-h/2}V${h/2}`};

function label(x,y,parts,size,anchor){
  const t=svg.append('text').attr('x',x).attr('y',y).attr('font-size',size).attr('text-anchor',anchor||'start');
  let up=false;
  parts.split('^').forEach((p,i)=>{
    if(i%2===0){const s=t.append('tspan').text(p); if(up){s.attr('dy',size*0.63);up=false;}}
    else {t.append('tspan').attr('dy',-size*0.63).attr('font-size',size*0.68).text(p);up=true;}
  });
  return t;
}
function boxedRoman(x0,y0,x1,y1,base,txt){
  svg.append('rect').attr('x',x0).attr('y',y0).attr('width',x1-x0).attr('height',y1-y0).attr('fill','#fff');
  svg.append('rect').attr('x',x0+2.5).attr('y',y0+2.5).attr('width',x1-x0-5).attr('height',y1-y0-5).attr('fill','#fff').attr('stroke','#000').attr('stroke-width',2.6);
  svg.append('text').attr('x',(x0+x1)/2).attr('y',base).attr('text-anchor','middle').attr('font-weight','bold').attr('font-size',44).text(txt);
}
function whiteBox(x0,y0,x1,y1){svg.append('rect').attr('x',x0).attr('y',y0).attr('width',x1-x0).attr('height',y1-y0).attr('fill','#fff');}

function panel(opt){
  const x=d3.scaleLinear().domain([-2,8]).range([433,2058]);
  const y=d3.scaleLinear().domain([0,1]).range([opt.y0,opt.y1]);
  const g=svg.append('g');
  const th=opt.threshold, zx=opt.zero, bot=opt.bottomVal;
  const zones=[[-2,zx,th,1,colors.gray],[zx,8,th,1,colors.sky],[-2,zx,bot,th,colors.green],[zx,8,bot,th,colors.pink]];
  g.selectAll('rect.z').data(zones).join('rect').attr('class','z')
   .attr('x',d=>x(d[0])).attr('width',d=>x(d[1])-x(d[0]))
   .attr('y',d=>y(d[3])).attr('height',d=>y(d[2])-y(d[3])).attr('fill',d=>d[4]);
  const marks=g.append('g');
  const lines=g.append('g');
  lines.append('line').attr('x1',x(-2)).attr('x2',x(8)).attr('y1',y(th)).attr('y2',y(th)).attr('stroke','#000').attr('stroke-width',opt.thLine);
  lines.append('line').attr('x1',x(zx)).attr('x2',x(zx)).attr('y1',y(1)).attr('y2',y(bot)).attr('stroke','#000').attr('stroke-width',2.4);
  lines.append('line').attr('x1',x(zx)+1).attr('x2',x(zx)+1).attr('y1',y(1)+11).attr('y2',y(bot)).attr('stroke',colors.crimson).attr('stroke-width',7).attr('stroke-dasharray','14 14.2');
  lines.append('line').attr('x1',x(-2)).attr('x2',x(8)).attr('y1',y(th)).attr('y2',y(th)).attr('stroke',colors.dashBlue).attr('stroke-width',7.5).attr('stroke-dasharray','14.6 13.7');
  const axL=d3.axisLeft(y).tickValues(yTicks).tickFormat(d3.format('.1f')).tickSize(43).tickPadding(23);
  const axB=d3.axisBottom(x).tickValues(xTicks).tickFormat((d,i)=>xTickLabels[i]).tickSize(43).tickPadding(opt.xPad);
  const ga=svg.append('g').attr('transform','translate(433,0)').call(axL);
  const gb=svg.append('g').attr('transform',`translate(0,${opt.frameBottom})`).call(axB);
  [ga,gb].forEach(s=>{s.select('.domain').remove();s.selectAll('line').attr('stroke','#000').attr('stroke-width',2.6);
    s.selectAll('text').attr('font-size',42).attr('font-family','Liberation Serif').attr('fill','#000');});
  svg.append('rect').attr('x',433).attr('y',opt.frameTop).attr('width',1625).attr('height',opt.frameBottom-opt.frameTop)
    .attr('fill','none').attr('stroke','#000').attr('stroke-width',3);
  return {x,y,marks,lines};
}

/* ================= PANEL A ================= */
const A=panel({y0:950,y1:56,threshold:thresholdA,zero:0,bottomVal:0,thLine:3,frameTop:53.5,frameBottom:950,xPad:30});
function massPath(P,arr,base){
  return d3.area().x(d=>P.x(d[0])).y0(P.y(base)).y1(d=>P.y(d[1]))(arr);
}
function scatter(P,data,shape,w,h,col,sw){
  P.marks.append('g').selectAll('path').data(data).join('path')
    .attr('d',symbols[shape](w,h))
    .attr('transform',d=>`translate(${P.x(d[0])},${P.y(d[1])})`)
    .attr('fill','none').attr('stroke',col).attr('stroke-width',sw);
}
scatter(A,korusPts,'tri',13,12,colors.olive,1.9);
scatter(A,korusClumps,'tri',13,12,colors.olive,1.9);
A.marks.append('path').attr('d',massPath(A,tealMass,-.002)).attr('fill',colors.teal);
scatter(A,dc3Pts,'tri',13,12,colors.teal,1.9);
scatter(A,dc3Band,'tri',13,12,colors.teal,1.9);
A.marks.append('path').attr('d',massPath(A,redMass,-.009)).attr('fill',colors.red);
scatter(A,atom1Pts,'dia',17,17,colors.red,1.7);
A.marks.append('path').attr('d',massPath(A,purpleMass,-.003)).attr('fill',colors.purple);
scatter(A,seacPts,'hex',11.5,13,colors.purple,1.7);
scatter(A,atom2Pts,'circ',12,13,colors.blue,1.7);
/* campaign average triangles */
const avgOrder=d3.range(campaignNames.length);
A.lines.append('g').selectAll('path').data(avgOrder).join('path')
  .attr('d',tri(64,56,7)).attr('transform',i=>`translate(${A.x(campaignX[i])},${A.y(campaignY[i])})`)
  .attr('fill',i=>campaignFill[i]).attr('stroke','#000').attr('stroke-width',7).attr('stroke-miterlimit',20);

/* Panel A labels */
svg.append('text').attr('x',212).attr('y',38).attr('font-size',49).style('font-family','Liberation Sans').text('(a)');
svg.append('text').attr('x',1238).attr('y',1107).attr('text-anchor','middle').attr('font-size',45.2).text('E-AIM calculated pH');
function anf(cx,cy){
  const t=svg.append('text').attr('transform',`translate(${cx},${cy}) rotate(-90)`).attr('text-anchor','middle').attr('font-size',46);
  t.append('tspan').text('AN');t.append('tspan').attr('dy',10).attr('font-size',32).text('f');
}
anf(224,480);
boxedRoman(563,60,631,129,110,'IV');
boxedRoman(1380,67,1450,136,117,'III');
boxedRoman(564,682,599,751,733,'I');
boxedRoman(1400,683,1452,753,733,'II');
const AN=40;
whiteBox(1451,75,2043,183);
label(1453,111,'ATom-1&2 ~0%',AN);
label(1453,172,'KORUS-AQ, DC3, SEAC^4^RS ~13%',AN);
whiteBox(1461,692,2053,799);
label(1462,727,'ATom-1&2 ~15%',AN);
label(1462,788,'KORUS-AQ, DC3, SEAC^4^RS ~72%',AN);
label(1,139,'ATom-1&2 0%',AN);
label(1,185,'KORUS-AQ, DC3,',AN);
label(1,247,'SEAC^4^RS ~0%',AN);
label(13,825,'ATom-1&2 ~85%',AN);
label(13,870,'KORUS-AQ, DC3,',AN);
label(13,932,'SEAC^4^RS ~15%',AN);
function arrow(x0,y0,x1,y1){
  svg.append('line').attr('x1',x0).attr('y1',y0).attr('x2',x1-20).attr('y2',y1).attr('stroke','#000').attr('stroke-width',2.6);
  svg.append('path').attr('d',`M${x1},${y1}L${x1-26},${y1-7}L${x1-26},${y1+7}Z`).attr('fill','#000');
}
arrow(327,161,501,163);
arrow(343,854,518,856);

/* Legend A */
function legBox(x0,y0,x1,y1){
  svg.append('rect').attr('x',x0-3).attr('y',y0-3).attr('width',x1-x0+6).attr('height',y1-y0+6).attr('fill','#fff');
  svg.append('rect').attr('x',x0).attr('y',y0).attr('width',x1-x0).attr('height',y1-y0).attr('fill','#fff').attr('stroke','#000').attr('stroke-width',3);
}
legBox(777,57,1232,438);
const LA=37.7;
const legOutline=[[823,126,'dia',35,33,colors.red],[1032,126,'circ',22,27,colors.blue],[823,167,'tri',28,25,colors.teal],[983,167,'tri',28,25,colors.olive],[823,227,'hex',21,24,colors.purple]];
legOutline.forEach(d=>svg.append('path').attr('d',symbols[d[2]](d[3],d[4])).attr('transform',`translate(${d[0]},${d[1]})`).attr('fill','none').attr('stroke',d[5]).attr('stroke-width',1.8));
label(785,96.5,'Campaign spreads',LA);
label(872,139,'ATom-1',LA); label(1079,139,'ATom-2',LA);
label(872,181,'DC3',LA); label(1032,181,'KORUS-AQ',LA);
label(872,239,'SEAC^4^RS',LA);
label(785,280,'Campaign average',LA);
const legAvg=[[823,309,'#ff0000'],[1031,309,'#0000cc'],[823,351,'#00cccc'],[983,351,'#999900'],[823,408,'#4b0099']];
legAvg.forEach(d=>svg.append('path').attr('d',tri(35,30,5)).attr('transform',`translate(${d[0]},${d[1]})`).attr('fill',d[2]).attr('stroke','#000').attr('stroke-width',5).attr('stroke-miterlimit',20));
label(872,323,'ATom-1',LA); label(1079,323,'ATom-2',LA);
label(872,365,'DC3',LA); label(1032,365,'KORUS-AQ',LA);
label(872,423,'SEAC^4^RS',LA);

/* ================= PANEL B ================= */
const B=panel({y0:2042.3,y1:1148.3,threshold:thresholdB,zero:zeroB,bottomVal:-.0302,thLine:5,frameTop:1151.5,frameBottom:2069,xPad:33});
B.marks.append('path').attr('d',massPath(B,grayMass,-.006)).attr('fill',colors.plus);
scatter(B,tropPts,'plus',14,14,colors.plus,1.9);
scatter(B,tropCloud,'plus',14,14,colors.plus,1.9);
const tri0=svg.append('g');
tri0.selectAll('path.bl').data(d3.range(blNames.length)).join('path').attr('class','bl')
  .attr('d',tri(66,60,7.5)).attr('transform',i=>`translate(${B.x(blX[i])},${B.y(blY[i])})`)
  .attr('fill',i=>blFill[i]).attr('stroke','#000').attr('stroke-width',7.5).attr('stroke-miterlimit',20);
tri0.selectAll('path.ft').data(d3.range(ftNames.length)).join('path').attr('class','ft')
  .attr('d',tri(70,63,7)).attr('transform',i=>`translate(${B.x(ftX[i])},${B.y(ftY[i])})`)
  .attr('fill','none').attr('stroke',i=>ftColor[i]).attr('stroke-width',7).attr('stroke-miterlimit',20);

svg.append('text').attr('x',215).attr('y',1143).attr('font-size',49).style('font-family','Liberation Sans').text('(b)');
svg.append('text').attr('x',1190).attr('y',2212).attr('text-anchor','middle').attr('font-size',45.2).text('GEOS-Chem/ISORROPIA calculated pH');
anf(230,1663);
whiteBox(462,1166,547,1217); label(504,1207,'~0%',42,'middle');
whiteBox(1957,1165,2044,1212); label(2000,1203,'<1%',42,'middle');
whiteBox(459,1790,541,1842); label(500,1831,'67%',42,'middle');
whiteBox(1969,1787,2052,1838); label(2010,1828,'33%',42,'middle');
boxedRoman(563.5,1181,630,1251,1232,'IV');
boxedRoman(1522,1163,1589,1230,1211,'III');
boxedRoman(579,1792,613,1862,1843,'I');
boxedRoman(1408,1793,1460,1861,1843,'II');

legBox(634,1158,1515,1636);
svg.append('path').attr('d',symbols.plus(24,24)).attr('transform','translate(680,1186)').attr('fill','none').attr('stroke','#aaa').attr('stroke-width',1.6);
label(729,1197,'Troposphere (defined as pressure altitude >250hPa)',37.7);
label(641,1239,'Boundary Layer Averages',37.7).attr('text-decoration','underline');
const rowY=[1281,1323,1366,1408,1450,1493,1535,1577];
legendBL.forEach((r,i)=>{
  const put=(mx,tx,e)=>{
    svg.append('path').attr('d',tri(39,34,7.5)).attr('transform',`translate(${mx},${rowY[i]-10})`).attr('fill',e[1]).attr('stroke','#000').attr('stroke-width',7.5).attr('stroke-miterlimit',20);
    label(tx,rowY[i],e[0],37.7);
  };
  put(680,729,r[0]);
  if(r[1]) put(legendBLsecondMarker[i],legendBLsecondText[i],r[1]);
});
svg.append('path').attr('d',tri(42,36,8)).attr('transform','translate(680,1603)').attr('fill','#fff').attr('stroke','#0033cc').attr('stroke-width',8).attr('stroke-miterlimit',20);
label(720,1621,'Free Troposphere Averages',37.7).attr('text-decoration','underline');
</script>
</body></html>
